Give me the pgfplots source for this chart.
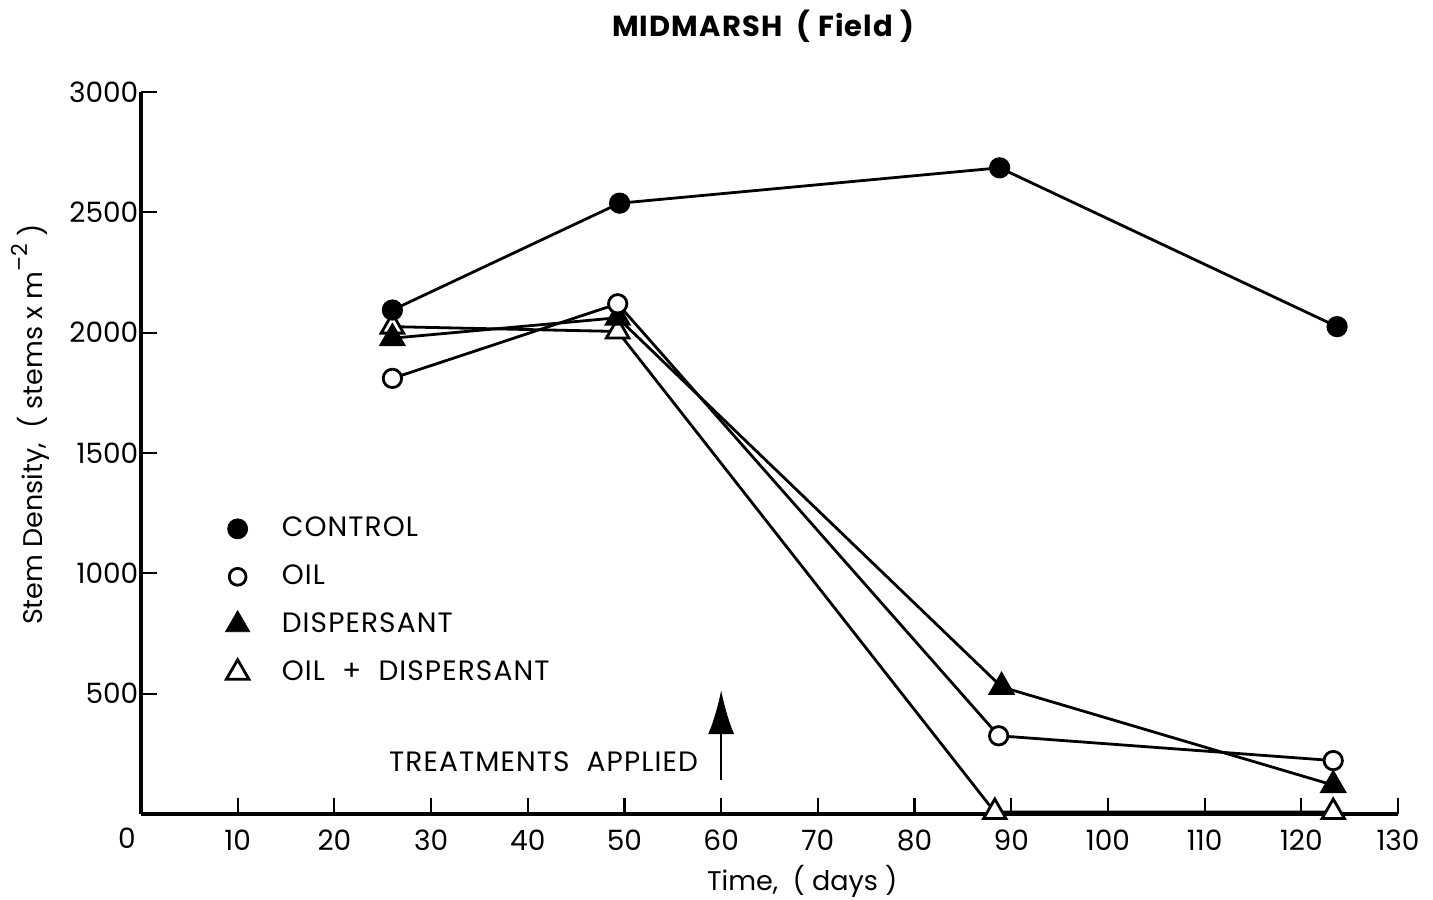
\documentclass[border=0pt]{standalone}
\usepackage{fontspec}
\setmainfont{Poppins}
\usepackage{pgfplots}
\pgfplotsset{compat=1.18}
\usetikzlibrary{arrows.meta}
\begin{document}
\fontsize{14}{16}\selectfont
\begin{tikzpicture}
\path[use as bounding box] (-70.5pt,-42.5pt) rectangle (646pt,407pt);
\begin{axis}[
  at={(0pt,0pt)}, anchor=south west,
  scale only axis, width=628.5pt, height=361pt,
  xmin=0, xmax=130, ymin=0, ymax=3000,
  axis x line=bottom, axis y line=left,
  axis line style={-, line width=1.6pt},
  xtick={10,20,...,130}, ytick={500,1000,...,3000},
  tick align=inside, major tick length=8pt,
  tick style={line width=1.1pt, black},
  /pgf/number format/assume math mode=true,
  /pgf/number format/1000 sep={},
  ticklabel style={font=\fontsize{14}{16}\selectfont},
  xticklabel style={yshift=-3pt},
  yticklabel style={xshift=3.5pt},
  clip=false,
  title={\bfseries MIDMARSH \ ( Field )},
  title style={at={(0.495,1.075)}, anchor=center, font=\fontsize{14.5}{16}\selectfont\addfontfeatures{LetterSpace=4}},
  xlabel={Time, \ ( days )},
  xlabel style={at={(0.526,-0.094)}, anchor=center, font=\fontsize{13.5}{16}\selectfont},
  ylabel={Stem Density, \ ( stems x m\raisebox{0.55em}{\fontsize{11}{12}\selectfont –2} )},
  ylabel style={at={(-0.088,0.539)}, anchor=center, font=\fontsize{13.5}{16}\selectfont},
  legend style={at={(axis cs:8.7,1253)}, anchor=north west, draw=none, fill=none,
    font=\fontsize{14}{16}\selectfont\addfontfeatures{LetterSpace=4}, row sep=8pt, inner sep=0pt,
    /tikz/every odd column/.append style={column sep=14pt}},
  legend cell align=left,
  legend image code/.code={\draw[#1,only marks] plot coordinates {(0pt,0pt)};},
]
\addlegendimage{black, mark=*, mark size=5pt}
\addlegendentry{CONTROL}
\addlegendimage{black, line width=1.4pt, mark=o, mark size=4.2pt}
\addlegendentry{OIL}
\addlegendimage{black, mark=triangle*, mark size=7pt}
\addlegendentry{DISPERSANT}
\addlegendimage{black, line width=1.4pt, mark=triangle*, mark size=6.5pt, mark options={fill=white}}
\addlegendentry{OIL \ + \ DISPERSANT}

\addplot[forget plot, black, line width=1.4pt, mark=triangle*, mark size=6.5pt, mark options={fill=white}]
  coordinates {(26,2025) (49.3,2005) (88.3,8) (123.3,8)};
\addplot[forget plot, black, line width=1.4pt, mark=triangle*, mark size=6.5pt]
  coordinates {(26,1977) (49.3,2062) (89,528) (123.3,120)};
\addplot[forget plot, black, line width=1.4pt, mark=*, mark size=4.6pt, mark options={fill=white}]
  coordinates {(26,1810) (49.3,2120) (88.7,325) (123.3,222)};
\addplot[forget plot, black, line width=1.4pt, mark=*, mark size=4.6pt]
  coordinates {(26,2094) (49.5,2538) (88.8,2685) (123.7,2025)};

\node[font=\fontsize{14}{16}\selectfont] at (axis cs:0,0) [xshift=-7pt, yshift=-12pt] {0};
\draw[line width=1.3pt, -{Latex[length=22pt,width=13pt]}] (axis cs:60,141) -- (axis cs:60,515);
\node[anchor=east, font=\fontsize{14}{16}\selectfont\addfontfeatures{LetterSpace=4}] at (axis cs:58.6,216) {TREATMENTS \ APPLIED};
\end{axis}
\end{tikzpicture}
\end{document}
